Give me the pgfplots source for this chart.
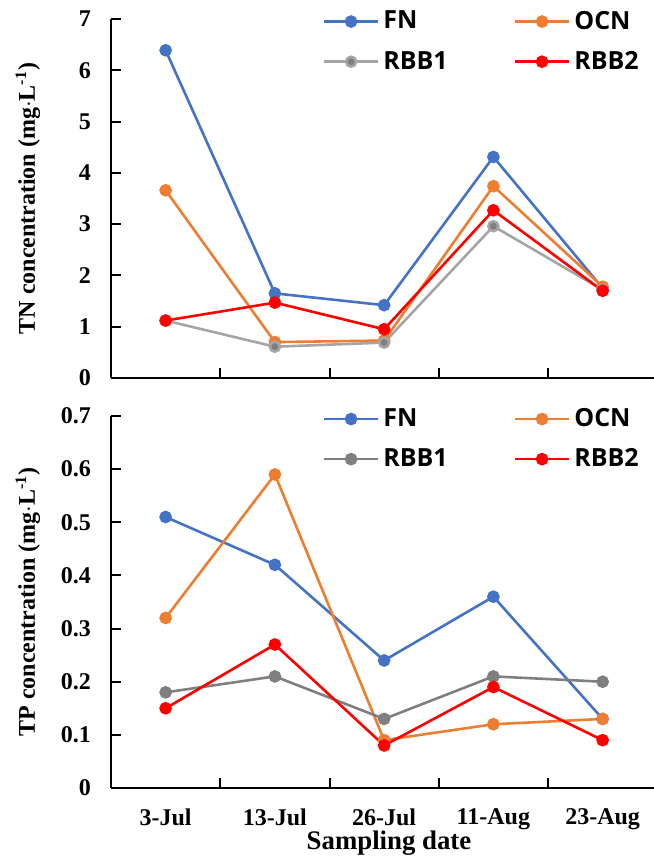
\documentclass[border=0pt]{standalone}
\usepackage{fontspec}
\setmainfont{Liberation Serif}
\newfontfamily\legfont{Open Sans}
\usepackage{pgfplots}
\pgfplotsset{compat=1.18}

\definecolor{cFN}{HTML}{4472C4}
\definecolor{cOCN}{HTML}{ED7D31}
\definecolor{cRBBa}{HTML}{A5A5A5}
\definecolor{cRBBm}{HTML}{7F7F7F}
\definecolor{cRBB2}{HTML}{FF0000}

% TN (mg/L)
\pgfplotstableread{
x FN OCN RBB1 RBB2
0 6.39 3.66 1.12 1.12
1 1.65 0.70 0.61 1.47
2 1.42 0.73 0.69 0.95
3 4.31 3.74 2.96 3.27
4 1.75 1.78 1.72 1.70
}\tn

% TP (mg/L)
\pgfplotstableread{
x FN OCN RBB1 RBB2
0 0.51 0.32 0.18 0.15
1 0.42 0.59 0.21 0.27
2 0.24 0.09 0.13 0.08
3 0.36 0.12 0.21 0.19
4 0.13 0.13 0.20 0.09
}\tp

\pgfplotsset{
  panel/.style={
    scale only axis,
    width=271.5pt,
    xmin=-0.5, xmax=4.47,
    axis x line*=bottom, axis y line*=left,
    axis line style={line width=1.1pt},
    tick style={black, line width=1pt},
    major tick length=5pt,
    tick align=inside,
    xtick={0.5,1.5,2.5,3.5},
    xticklabels={},
    ymin=0,
    /pgf/number format/assume math mode=true,
    ticklabel style={font=\fontsize{12}{14}\selectfont\bfseries},
    yticklabel style={xshift=-6.5pt},
    label style={font=\fontsize{12}{14}\selectfont\bfseries},
    ylabel style={at={(axis description cs:-0.153,0.5)}, anchor=center},
    legend columns=2,
    legend cell align=left,
    legend style={draw=none, fill=none, font=\legfont\fontsize{12.5}{14}\selectfont\bfseries,
      anchor=north west, /tikz/every even column/.append style={column sep=31pt},
      row sep=5.5pt},
    legend image code/.code={
      \draw[mark repeat=2, mark phase=2, #1] plot coordinates {(0pt,0pt) (13.5pt,0pt) (27pt,0pt)};},
    every axis plot/.append style={line width=1.3pt, mark=*, mark size=2.5pt,
      mark options={draw=white, line width=0.4pt}},
  },
}

\begin{document}
\begin{tikzpicture}
\useasboundingbox (0,0) rectangle (327pt,429pt);

\begin{axis}[panel,
  at={(55.5pt,240pt)}, anchor=south west,
  height=179.5pt,
  ymax=7, ytick={0,1,...,7},
  ylabel={TN concentration (mg$\cdot$L\textsuperscript{-1})},
  legend style={at={(axis cs:1.38,7.32)}},
]
\addplot[cFN, mark options={fill=cFN}] table[x=x, y=FN] {\tn};
\addlegendentry{FN}
\addplot[cOCN, mark options={fill=cOCN}] table[x=x, y=OCN] {\tn};
\addlegendentry{OCN}
\addplot[cRBBa, mark options={fill=cRBBm}] table[x=x, y=RBB1] {\tn};
\addlegendentry{RBB1}
\addplot[cRBB2, mark options={fill=cRBB2}] table[x=x, y=RBB2] {\tn};
\addlegendentry{RBB2}
\end{axis}

\begin{axis}[panel,
  at={(55.5pt,35pt)}, anchor=south west,
  height=186pt,
  ymax=0.7, ytick={0,0.1,...,0.7},
  yticklabel style={/pgf/number format/.cd, fixed, precision=1},
  ylabel={TP concentration (mg$\cdot$L\textsuperscript{-1})},
  xlabel={Sampling date},
  xlabel style={at={(axis description cs:0.512,-0.148)}, anchor=center,
    font=\fontsize{13.4}{15}\selectfont\bfseries},
  extra x ticks={0,1,2,3,4},
  extra x tick labels={3-Jul,13-Jul,26-Jul,11-Aug,23-Aug},
  extra x tick style={major tick length=0pt, xticklabel style={yshift=-7pt}},
  legend style={at={(axis cs:1.38,0.73)}},
]
\addplot[cFN, mark options={fill=cFN}] table[x=x, y=FN] {\tp};
\addlegendentry{FN}
\addplot[cOCN, mark options={fill=cOCN}] table[x=x, y=OCN] {\tp};
\addlegendentry{OCN}
\addplot[cRBBm, mark options={fill=cRBBm}] table[x=x, y=RBB1] {\tp};
\addlegendentry{RBB1}
\addplot[cRBB2, mark options={fill=cRBB2}] table[x=x, y=RBB2] {\tp};
\addlegendentry{RBB2}
\end{axis}
\end{tikzpicture}
\end{document}
